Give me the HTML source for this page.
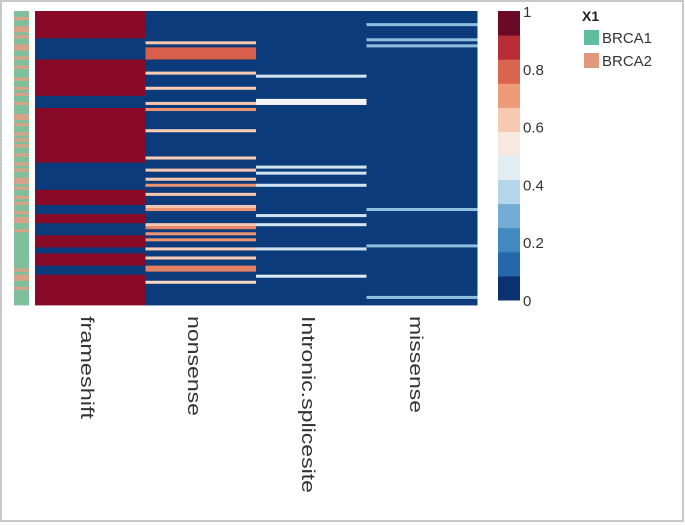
<!DOCTYPE html>
<html><head><meta charset="utf-8">
<style>
body{margin:0;background:#fff;font-family:"Liberation Sans",Arial,sans-serif;}
svg{display:block}
</style></head>
<body>
<svg id="chart" width="685" height="525">
<rect x="1" y="1" width="682" height="520" fill="#fff" stroke="#c8c8c8" stroke-width="2"/>
<g id="cells"></g>
<g id="anno"></g>
<g id="collabels"></g>
<g id="cbar"></g>
<g>
<text x="582" y="21" font-size="14" font-weight="bold" fill="#222">X1</text>
<rect x="584" y="30" width="15" height="15" fill="#5fbf9c"/>
<text x="602" y="43" font-size="15" fill="#333">BRCA1</text>
<rect x="584" y="53" width="15" height="15" fill="#e1977c"/>
<text x="602" y="66" font-size="15" fill="#333">BRCA2</text>
</g>
</svg>
<script>
const N = 97;
const categories = ["frameshift","nonsense","Intronic.splicesite","missense"];
function runs(list){const a=new Array(N).fill(0);list.forEach(([s,e,v])=>{for(let i=s;i<=e;i++)a[i]=v;});return a;}
const frameshiftRuns = [[0,8,1],[16,27,1],[32,49,1],[59,63,1],[67,69,1],[74,77,1],[80,83,1],[87,96,1]];
const nonsenseRuns = [[10,10,0.63],[12,15,0.8],[20,20,0.62],[25,25,0.62],[30,30,0.63],[32,32,0.72],[39,39,0.62],[48,48,0.62],[52,52,0.63],[55,55,0.63],[57,57,0.72],[60,60,0.63],[64,64,0.63],[65,65,0.72],[70,70,0.63],[71,71,0.75],[73,73,0.72],[75,75,0.72],[78,78,0.62],[81,81,0.62],[84,85,0.75],[89,89,0.6]];
const intronicRuns = [[21,21,0.42],[29,30,0.5],[51,51,0.42],[53,53,0.42],[57,57,0.42],[67,67,0.42],[70,70,0.42],[78,78,0.42],[87,87,0.45]];
const missenseRuns = [[4,4,0.33],[9,9,0.33],[11,11,0.33],[65,65,0.33],[77,77,0.33],[94,94,0.33]];
const frameshiftValues = runs(frameshiftRuns);
const nonsenseValues = runs(nonsenseRuns);
const intronicValues = runs(intronicRuns);
const missenseValues = runs(missenseRuns);
const geneGroup = [1,1,2,1,1,2,2,1,2,1,1,2,2,1,1,2,1,1,2,1,1,1,2,1,1,2,1,2,1,1,2,1,1,1,2,2,1,2,1,1,2,1,2,1,2,1,1,2,1,1,2,1,2,1,1,2,2,1,2,1,1,2,1,2,1,1,2,1,2,2,1,1,2,1,1,1,1,1,1,1,1,1,1,1,1,2,1,2,2,1,1,2,1,1,1,1,1];
const colorTicks = [0,0.2,0.4,0.6,0.8,1];
const series=[frameshiftValues,nonsenseValues,intronicValues,missenseValues];
const X0=35,X1=477,Y0=11,Y1=305;
const colW=(X1-X0)/categories.length,rowH=(Y1-Y0)/N;
const xPos=c=>X0+c*colW, yPos=r=>Y0+r*rowH;
const stops=[[0,[12,58,122]],[0.1,[28,92,165]],[0.2,[60,135,190]],[0.3,[120,175,215]],[0.4,[200,225,240]],[0.5,[245,245,245]],[0.6,[250,215,195]],[0.7,[240,160,125]],[0.8,[215,95,75]],[0.9,[175,25,45]],[1,[120,5,35]]];
function color(v){for(let i=1;i<stops.length;i++){if(v<=stops[i][0]){const[a,ca]=stops[i-1],[b,cb]=stops[i];const t=(v-a)/(b-a);return`rgb(${ca.map((x,k)=>Math.round(x+(cb[k]-x)*t)).join(",")})`;}}return"rgb(120,5,35)";}
function cellColor(v){return v>=1?"#880a26":v<=0?"#0c3b7b":color(v);}
const NS="http://www.w3.org/2000/svg";
const cells=document.getElementById("cells");
series.forEach((vals,c)=>{vals.forEach((v,r)=>{
 const el=document.createElementNS(NS,"rect");
 el.setAttribute("x",xPos(c));el.setAttribute("y",yPos(r));
 el.setAttribute("width",colW+0.5);el.setAttribute("height",rowH+0.4);
 el.setAttribute("fill",cellColor(v));
 
 
 cells.appendChild(el);});});
const anno=document.getElementById("anno");
geneGroup.forEach((g,r)=>{
 const el=document.createElementNS(NS,"rect");
 el.setAttribute("x",14);el.setAttribute("y",yPos(r));el.setAttribute("width",15);el.setAttribute("height",rowH+0.4);
 el.setAttribute("fill",g===1?"#7fbf9c":"#d9a287");
 
 
 anno.appendChild(el);});
const labX=[81,188,302,410];
const labLen=[103,100,177,97];
const cl=document.getElementById("collabels");
categories.forEach((c,i)=>{
 const t=document.createElementNS(NS,"text");
 t.setAttribute("transform",`translate(${labX[i]},316) rotate(90)`);
 t.setAttribute("font-size","18");t.setAttribute("fill","#333");
 t.setAttribute("textLength",labLen[i]);t.setAttribute("lengthAdjust","spacingAndGlyphs");
 t.textContent=c;
 
 
 cl.appendChild(t);});
const cb=document.getElementById("cbar");
const CB0=11,CB1=300,nb=12,bh=(CB1-CB0)/nb;
for(let i=0;i<nb;i++){
 const v=(i+0.5)/nb;
 const el=document.createElementNS(NS,"rect");
 el.setAttribute("x",498);el.setAttribute("y",CB1-(i+1)*bh);el.setAttribute("width",22);el.setAttribute("height",bh+0.5);
 el.setAttribute("fill",i===0?"#0b3170":i===nb-1?"#6a0a26":color(v));
 
 
 cb.appendChild(el);}
colorTicks.forEach(v=>{
 const t=document.createElementNS(NS,"text");
 t.setAttribute("x",523);t.setAttribute("y",CB1-v*(CB1-CB0)+6);
 t.setAttribute("font-size","15");t.setAttribute("fill","#333");
 t.textContent=String(v);
 
 
 cb.appendChild(t);});
</script>
</body></html>
